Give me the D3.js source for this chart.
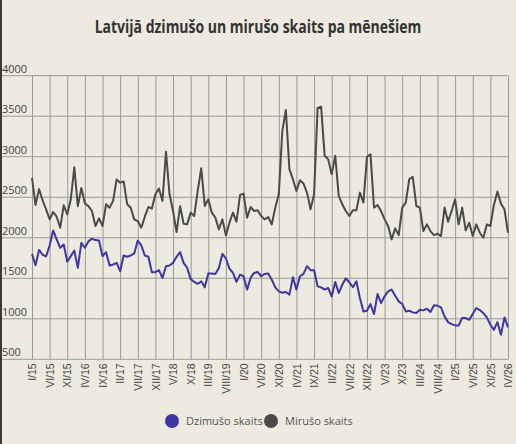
<!DOCTYPE html>
<meta charset="utf-8">
<body style="margin:0;background:#edebe1">
<style>
svg { display:block; font-family:"Open Sans", "Noto Sans", sans-serif; }
.grid line { stroke:#9a9a92; stroke-width:1px; }
.tick text { fill:#444; font-size:10.5px; }
.line { fill:none; stroke-width:2px; stroke-linejoin:round; }
</style>
<script src="https://cdn.jsdelivr.net/npm/d3@7"></script>
<script>

var roman = ["I","II","III","IV","V","VI","VII","VIII","IX","X","XI","XII"];
var years = ["15","16","17","18","19","20","21","22","23","24","25","26"];

// I/15 .. IV/26
var months = [];
years.forEach(function(y) {
  roman.forEach(function(r) { months.push(r + "/" + y); });
});
months = months.slice(0, 136);

var tickLabels = ["I/15","VI/15","XI/15","IV/16","IX/16","II/17","VII/17","XII/17","V/18","X/18",
  "III/19","VIII/19","I/20","VI/20","XI/20","IV/21","IX/21","II/22","VII/22","XII/22",
  "V/23","X/23","III/24","VIII/24","I/25","VI/25","XI/25","IV/26"];

var yTicks = [500, 1000, 1500, 2000, 2500, 3000, 3500, 4000];

var births = [
  1800,1660,1850,1790,1770,1905,2090,1980,1876,1917,1703,1773,
  1843,1628,1938,1876,1955,1988,1971,1967,1773,1822,1657,1670,
  1690,1587,1781,1765,1781,1806,1965,1905,1781,1765,1575,1575,
  1600,1504,1649,1657,1690,1765,1822,1690,1630,1490,1455,1430,
  1463,1388,1558,1558,1554,1628,1801,1744,1620,1566,1455,1545,
  1525,1360,1504,1566,1578,1525,1554,1558,1483,1388,1339,1322,
  1330,1298,1512,1360,1525,1554,1649,1600,1600,1400,1388,1360,
  1380,1277,1455,1318,1420,1500,1450,1390,1463,1256,1091,1100,
  1182,1058,1306,1195,1277,1339,1360,1285,1215,1182,1091,1100,
  1079,1071,1112,1104,1124,1083,1166,1162,1141,1030,959,934,
  918,918,1009,1009,988,1058,1133,1108,1071,1017,926,864,
  959,802,1017,893
];

var deaths = [
  2740,2405,2600,2463,2350,2227,2318,2260,2124,2400,2290,2475,
  2870,2390,2615,2425,2390,2330,2145,2240,2145,2413,2370,2455,
  2720,2680,2695,2413,2370,2227,2206,2124,2260,2380,2360,2537,
  2607,2455,3060,2537,2330,2070,2390,2173,2165,2310,2268,2578,
  2859,2392,2475,2310,2248,2103,2227,2029,2186,2310,2198,2529,
  2545,2248,2380,2330,2339,2268,2227,2256,2165,2372,2537,3322,
  3578,2847,2723,2578,2710,2669,2557,2351,2537,3602,3619,3012,
  2970,2785,3012,2516,2413,2330,2268,2339,2339,2557,2434,3000,
  3030,2372,2405,2330,2227,2145,1980,2116,2033,2372,2434,2723,
  2752,2392,2372,2083,2165,2083,2033,2050,2021,2372,2198,2330,
  2475,2165,2372,2091,2186,2021,2165,2062,2000,2165,2145,2405,
  2570,2421,2351,2062
];

var W = 516, H = 444;

var svg = d3.select("body").append("svg")
    .attr("width", W)
    .attr("height", H);

svg.append("rect").attr("width", W).attr("height", H).attr("fill", "#edebe1");
svg.append("rect").attr("width", 2).attr("height", H).attr("fill", "#3a3a3a");

var x = d3.scalePoint().domain(months).range([32, 508]);
var y = d3.scaleLinear().domain([500, 4000]).range([359.3, 75.7]);

// horizontal grid + y labels
var yg = svg.append("g").attr("class", "grid");
yg.selectAll("line").data(yTicks).enter().append("line")
    .attr("x1", 2).attr("x2", 508)
    .attr("y1", function(d) { return y(d); })
    .attr("y2", function(d) { return y(d); });
svg.append("g").selectAll("text").data(yTicks).enter().append("text")
    .attr("x", 2)
    .attr("y", function(d) { return y(d) - 3; })
    .attr("fill", "#444")
    .style("font-size", "11px")
    .text(function(d) { return d; });

// x axis, ticks every 5th month, grid lines up to the top
var xAxis = d3.axisBottom(x).tickValues(tickLabels).tickSize(0).tickPadding(0);
var xg = svg.append("g")
    .attr("transform", "translate(0," + y(500) + ")")
    .call(xAxis);
xg.select(".domain").remove();
xg.selectAll(".tick line")
    .attr("y2", y(4000) - y(500))
    .attr("stroke", "#9a9a92");
xg.selectAll(".tick text")
    .attr("transform", "rotate(-90)")
    .attr("text-anchor", "end")
    .attr("x", -4)
    .attr("y", 0)
    .attr("dy", "0.35em");

var line = d3.line()
    .x(function(d, i) { return x(months[i]); })
    .y(function(d) { return y(d); });

svg.append("path").datum(deaths)
    .attr("class", "line")
    .attr("stroke", "#4a4a4a")
    .attr("d", line);

svg.append("path").datum(births)
    .attr("class", "line")
    .attr("stroke", "#3d36a3")
    .attr("d", line);

// title
var title = svg.append("text")
    .attr("x", 258).attr("y", 33)
    .attr("text-anchor", "middle")
    .attr("fill", "#333")
    .style("font-size", "18px")
    .style("font-weight", "bold")
    .text("Latvijā dzimušo un mirušo skaits pa mēnešiem");
var tw = title.node().getComputedTextLength();
title.attr("transform", "translate(258,0) scale(" + (327 / tw) + ",1) translate(-258,0)");

// legend
var legend = [
  {name: "Dzimušo skaits", color: "#3d36a3", x: 172},
  {name: "Mirušo skaits", color: "#4a4a4a", x: 271}
];
var lg = svg.append("g").selectAll("g").data(legend).enter().append("g")
    .attr("transform", function(d) { return "translate(" + d.x + ",421)"; });
lg.append("circle").attr("r", 7).attr("fill", function(d) { return d.color; });
lg.append("text")
    .attr("x", 14).attr("dy", "0.35em")
    .attr("fill", "#555")
    .style("font-size", "11px")
    .text(function(d) { return d.name; });

</script>
